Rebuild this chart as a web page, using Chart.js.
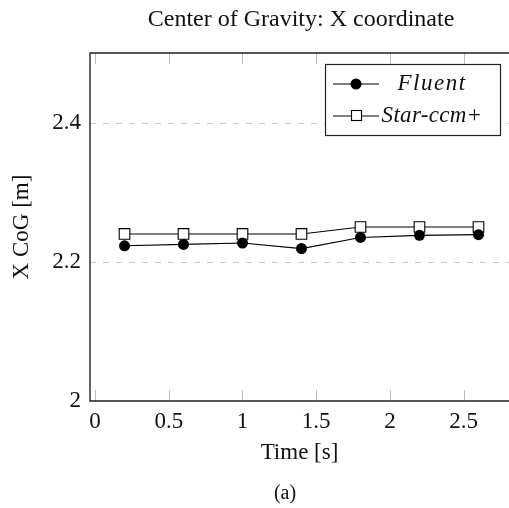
<!DOCTYPE html>
<html>
<head>
<meta charset="utf-8">
<script src="https://cdn.jsdelivr.net/npm/chart.js@4.4.0/dist/chart.umd.min.js"></script>
<style>
  html, body { margin: 0; padding: 0; background: #fff; }
  #wrap { width: 509px; height: 508px; }
</style>
</head>
<body>
<div id="wrap"><canvas id="cog"></canvas></div>
<script>
// data
const times = [0.2, 0.6, 1.0, 1.4, 1.8, 2.2, 2.6];
const fluent = [2.223, 2.225, 2.227, 2.219, 2.235, 2.238, 2.239];
const starccm = [2.24, 2.24, 2.24, 2.24, 2.25, 2.25, 2.25];
const xTicks = [0, 0.5, 1, 1.5, 2, 2.5];
const yTicks = [2, 2.2, 2.4];
const yGrid = [2.2, 2.4];

const serif = "'Liberation Serif', 'DejaVu Serif', serif";

const toPoints = (xs, ys) => xs.map((x, i) => ({ x: x, y: ys[i] }));
const fmt = v => String(Math.round(v * 10) / 10);

// frame, dashed grid, inward ticks, title, caption and boxed legend
const decor = {
    id: "decor",
    beforeDatasetsDraw(chart) {
        const { ctx, chartArea: a, scales } = chart;
        ctx.save();
        ctx.strokeStyle = "#c8c8c8";
        ctx.lineWidth = 1;
        ctx.setLineDash([6, 7]);
        yGrid.forEach(v => {
            const y = Math.round(scales.y.getPixelForValue(v)) + 0.5;
            ctx.beginPath();
            ctx.moveTo(a.left, y);
            ctx.lineTo(a.right, y);
            ctx.stroke();
        });
        ctx.setLineDash([]);
        ctx.strokeStyle = "#bdbdbd";
        xTicks.forEach(v => {
            const x = Math.round(scales.x.getPixelForValue(v)) + 0.5;
            ctx.beginPath();
            ctx.moveTo(x, a.bottom);
            ctx.lineTo(x, a.bottom - 11);
            ctx.moveTo(x, a.top);
            ctx.lineTo(x, a.top + 11);
            ctx.stroke();
        });
        ctx.strokeStyle = "#222";
        ctx.lineWidth = 1.4;
        ctx.beginPath();
        ctx.moveTo(a.right + 2, a.top);
        ctx.lineTo(a.left, a.top);
        ctx.lineTo(a.left, a.bottom);
        ctx.lineTo(a.right + 2, a.bottom);
        ctx.stroke();
        ctx.restore();
    },
    afterDraw(chart) {
        const { ctx } = chart;
        ctx.save();
        ctx.fillStyle = "#111";
        ctx.textAlign = "center";
        ctx.textBaseline = "middle";
        ctx.font = "24px " + serif;
        ctx.fillText("Center of Gravity: X coordinate", 301, 20);
        ctx.font = "20px " + serif;
        ctx.fillText("(a)", 285, 494);

        // legend box
        ctx.fillStyle = "#fff";
        ctx.fillRect(325, 64, 176, 72);
        ctx.strokeStyle = "#222";
        ctx.lineWidth = 1.2;
        ctx.strokeRect(325.5, 64.5, 175, 71);
        const rows = [84, 116];
        chart.data.datasets.forEach((ds, i) => {
            const y = rows[i];
            ctx.strokeStyle = "#000";
            ctx.lineWidth = 1.1;
            ctx.beginPath();
            ctx.moveTo(333, y);
            ctx.lineTo(379, y);
            ctx.stroke();
            if (ds.pointStyle === "rect") {
                ctx.fillStyle = "#fff";
                ctx.fillRect(351, y - 5, 10, 10);
                ctx.strokeRect(351.5, y - 5.5, 10, 10);
            } else {
                ctx.fillStyle = "#000";
                ctx.beginPath();
                ctx.arc(356, y, 5.5, 0, Math.PI * 2);
                ctx.fill();
            }
            ctx.fillStyle = "#111";
            ctx.font = "italic 23px " + serif;
            ctx.letterSpacing = i === 0 ? "1.5px" : "0.3px";
            ctx.fillText(ds.label, 432, y);
        });
        ctx.restore();
    }
};

new Chart(document.getElementById("cog"), {
    type: "scatter",
    data: {
        datasets: [
            {
                label: "Fluent",
                data: toPoints(times, fluent),
                showLine: true,
                borderColor: "#000",
                borderWidth: 1.1,
                backgroundColor: "#000",
                pointStyle: "circle",
                pointRadius: 5.5,
                pointBorderWidth: 0
            },
            {
                label: "Star-ccm+",
                data: toPoints(times, starccm),
                showLine: true,
                borderColor: "#000",
                borderWidth: 1.1,
                backgroundColor: "#fff",
                pointStyle: "rect",
                pointRadius: 7.5,
                pointBorderWidth: 1.1
            }
        ]
    },
    options: {
        responsive: true,
        maintainAspectRatio: false,
        animation: false,
        layout: { autoPadding: false, padding: { top: 53, right: 0, bottom: 0, left: 0 } },
        plugins: {
            legend: { display: false },
            tooltip: { enabled: false }
        },
        scales: {
            x: {
                type: "linear",
                min: -0.034,
                max: 2.807,
                afterBuildTicks: s => { s.ticks = xTicks.map(v => ({ value: v })); },
                afterFit: s => { s.height = 107; },
                grid: { display: false, drawTicks: false },
                border: { display: false },
                ticks: {
                    color: "#111",
                    padding: 7,
                    maxRotation: 0,
                    callback: fmt,
                    font: { family: serif, size: 23 }
                },
                title: {
                    display: true,
                    text: "Time [s]",
                    color: "#111",
                    padding: { top: 0, bottom: 41 },
                    font: { family: serif, size: 23 }
                }
            },
            y: {
                min: 2,
                max: 2.5,
                afterBuildTicks: s => { s.ticks = yTicks.map(v => ({ value: v })); },
                afterFit: s => { s.width = 90; },
                grid: { display: false, drawTicks: false },
                border: { display: false },
                ticks: {
                    color: "#111",
                    padding: 9,
                    callback: fmt,
                    font: { family: serif, size: 23 }
                },
                title: {
                    display: true,
                    text: "X CoG [m]",
                    color: "#111",
                    padding: { top: 8, bottom: 0 },
                    font: { family: serif, size: 23 }
                }
            }
        }
    },
    plugins: [decor]
});
</script>
</body>
</html>
